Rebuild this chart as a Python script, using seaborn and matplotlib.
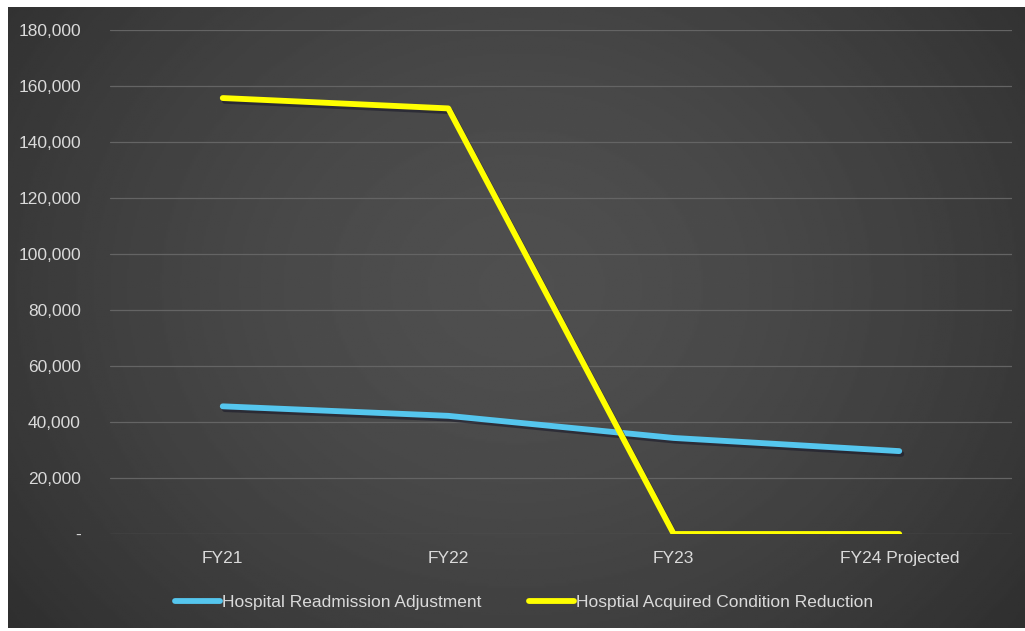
import numpy as np
import pandas as pd
import matplotlib
matplotlib.use("Agg")
import matplotlib.pyplot as plt
import matplotlib.patheffects as pe
from matplotlib.ticker import FuncFormatter
import seaborn as sns

# Fiscal years and the two penalty series (dollars)
years = ["FY21", "FY22", "FY23", "FY24 Projected"]
readmission = [45600, 42200, 34300, 29600]
hac_reduction = [155700, 152000, 0, 0]
series_names = ["Hospital Readmission Adjustment", "Hosptial Acquired Condition Reduction"]
y_ticks = [0, 20000, 40000, 60000, 80000, 100000, 120000, 140000, 160000, 180000]

df = pd.DataFrame({
    "year": years * 2,
    "value": readmission + hac_reduction,
    "series": [series_names[0]] * len(years) + [series_names[1]] * len(years),
})

sns.set_theme(style="dark")
plt.rcParams["font.family"] = ["Liberation Sans", "DejaVu Sans"]

W, H = 1025, 631
fig = plt.figure(figsize=(W / 100, H / 100), dpi=100, facecolor="white")

# Dark panel with a soft glow toward the middle
bg = fig.add_axes([8 / W, 3 / H, (W - 8) / W, (H - 10) / H])
yy, xx = np.mgrid[0:1:300j, 0:1:500j]
r = np.sqrt(((xx - 0.5) / 0.65) ** 2 + ((yy - 0.45) / 0.9) ** 2)
shade = np.clip(0.31 - 0.13 * r ** 1.6, 0.17, 0.31)
bg.imshow(shade, cmap="gray", vmin=0, vmax=1, aspect="auto", extent=[0, 1, 0, 1])
bg.set_axis_off()

ax = fig.add_axes([110 / W, (H - 534) / H, (1012 - 110) / W, (534 - 30) / H])
ax.patch.set_alpha(0)

palette = {series_names[0]: "#55c6ee", series_names[1]: "#ffff00"}
sns.lineplot(data=df, x="year", y="value", hue="series", palette=palette,
             linewidth=4.2, sort=False, ax=ax, legend=False)
for line in ax.lines:
    line.set_solid_capstyle("round")
    line.set_path_effects([pe.SimpleLineShadow(offset=(1.5, -2), shadow_color="#1a1a2a", alpha=0.6),
                           pe.Normal()])

ax.set_xlim(-0.5, len(years) - 0.5)
ax.set_ylim(0, 180000)
ax.set_yticks(y_ticks)
ax.yaxis.set_major_formatter(FuncFormatter(lambda v, p: "-" if v == 0 else f"{int(v):,}"))
ax.grid(axis="y", color="#646464", linewidth=0.9)
ax.grid(axis="x", visible=False)
for s in ax.spines.values():
    s.set_visible(False)
ax.tick_params(axis="both", colors="#dadada", labelsize=12.5, length=0)
ax.tick_params(axis="y", pad=21)
ax.tick_params(axis="x", pad=12)
ax.set_xlabel("")
ax.set_ylabel("")

handles = [plt.Line2D([], [], color=palette[n], linewidth=4.2, solid_capstyle="round") for n in series_names]
leg = fig.legend(handles, series_names, loc="center", bbox_to_anchor=(524 / W, 1 - 602 / H),
                 ncol=2, frameon=False, fontsize=12.5, labelcolor="#dadada",
                 handlelength=2.6, handletextpad=0.15, columnspacing=2.7)

fig.savefig("out.png", dpi=100, facecolor="white")
